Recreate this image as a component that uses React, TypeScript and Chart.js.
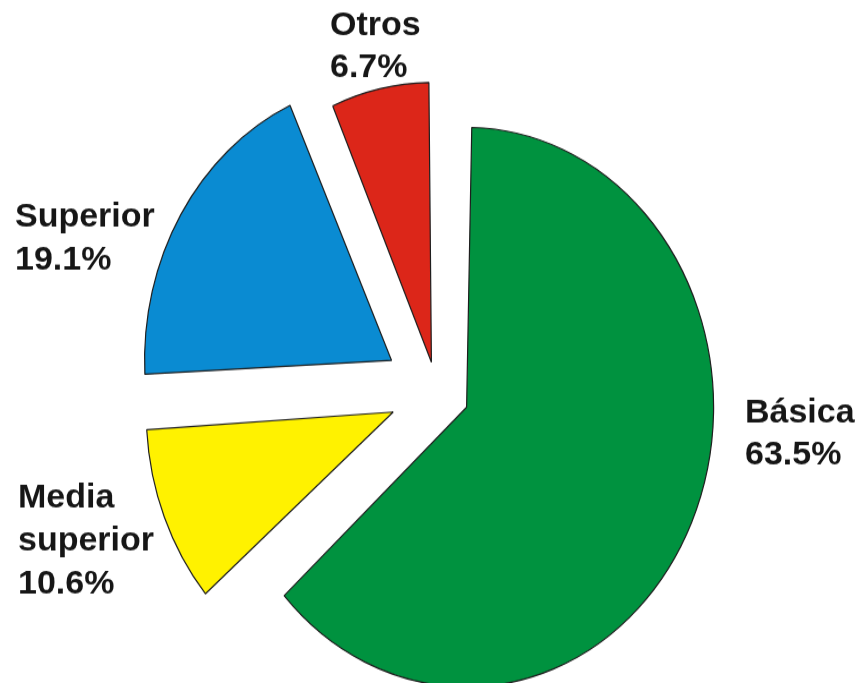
import React, { useEffect, useRef } from 'react';
import { Chart, registerables } from 'chart.js';

Chart.register(...registerables);

// ---- data ----
const categories: string[] = ['Básica', 'Media superior', 'Superior', 'Otros'];
const shares: number[] = [63.5, 10.6, 19.1, 6.7];
const sliceColors: string[] = ['#00923f', '#fff200', '#0a8bd2', '#dc2619'];

// ---- layout / style ----
const W = 862;
const H = 683;
const IH = 603; // internal canvas height; CSS stretches it to H (the reference pie is taller than wide)
const STRETCH = H / IH;
const RADIUS = 247;
const EXPLODE = [130, 189, 213, 107]; // Chart.js offset (translation = offset / 4)
const FONT = 'bold 34px "Liberation Sans", Arial, sans-serif';
const LINE_H = 42.5;
const LABEL_LAYOUT = [
  { x: 745, y: 422, wrap: false },
  { x: 18, y: 508, wrap: true },
  { x: 15, y: 227, wrap: false },
  { x: 330, y: 35, wrap: false },
];

const equalRadiusPlugin = {
  id: 'equalRadius',
  beforeDatasetsDraw(chart: any) {
    const meta = chart.getDatasetMeta(0);
    meta.data.forEach((el: any, i: number) => {
      const off = (EXPLODE[i] || 0) / 4;
      const fix = 1 - Math.sin(Math.min(Math.PI, el.circumference || 0));
      el.outerRadius = RADIUS - off * fix;
    });
  },
};

const labelPlugin = {
  id: 'sliceLabels',
  afterDraw(chart: any) {
    const ctx = chart.ctx as CanvasRenderingContext2D;
    ctx.save();
    ctx.scale(1, 1 / STRETCH);
    ctx.font = FONT;
    ctx.fillStyle = '#161616';
    ctx.textAlign = 'left';
    ctx.textBaseline = 'alphabetic';
    categories.forEach((name, i) => {
      const lay = LABEL_LAYOUT[i];
      const lines = lay.wrap ? name.split(' ') : [name];
      lines.push(shares[i].toFixed(1) + '%');
      lines.forEach((t, k) => ctx.fillText(t, lay.x, lay.y + k * LINE_H));
    });
    ctx.restore();
  },
};

export default function App() {
  const ref = useRef<HTMLCanvasElement | null>(null);
  useEffect(() => {
    document.body.style.margin = '0';
    const canvas = ref.current;
    if (!canvas) return;
    const chart = new Chart(canvas, {
      type: 'pie',
      data: {
        labels: categories,
        datasets: [
          {
            data: shares,
            backgroundColor: sliceColors,
            borderColor: '#1e1e1e',
            borderWidth: 1.2,
            offset: EXPLODE,
            hoverOffset: 0,
            clip: false,
          } as any,
        ],
      },
      options: {
        responsive: false,
        animation: false,
        devicePixelRatio: 1,
        radius: RADIUS,
        layout: { padding: { left: 12, right: 0, top: 89, bottom: 0 } },
        plugins: {
          legend: { display: false },
          tooltip: { enabled: false },
          title: { display: false },
        },
        events: [],
      } as any,
      plugins: [equalRadiusPlugin, labelPlugin],
    });
    return () => chart.destroy();
  }, []);
  return (
    <div style={{ width: W, height: H, background: '#fff' }}>
      <canvas
        ref={ref}
        width={W}
        height={IH}
        style={{ width: W + 'px', height: H + 'px', display: 'block' }}
      />
    </div>
  );
}
